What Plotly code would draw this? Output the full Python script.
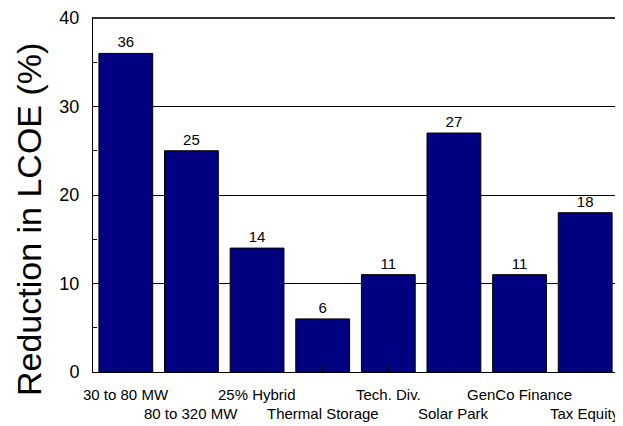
import plotly.graph_objects as go

categories = ["30 to 80 MW", "80 to 320 MW", "25% Hybrid", "Thermal Storage",
              "Tech. Div.", "Solar Park", "GenCo Finance", "Tax Equity"]
values = [36, 25, 14, 6, 11, 27, 11, 18]
y_ticks = [0, 10, 20, 30, 40]
y_title = "Reduction in LCOE (%)"

FONT = "Liberation Sans, Arial, sans-serif"

fig = go.Figure()
fig.add_trace(go.Bar(
    x=categories, y=values,
    marker=dict(color="#000080", line=dict(color="black", width=1)),
    text=[str(v) for v in values], textposition="outside",
    textfont=dict(family=FONT, size=15, color="black"),
    cliponaxis=False, width=0.82,
))

annotations = []
for i, c in enumerate(categories):
    annotations.append(dict(
        x=c, xref="x", y=0, yref="paper",
        yshift=-22 if i % 2 == 0 else -41,
        text=c, showarrow=False, xanchor="center", yanchor="middle",
        font=dict(family=FONT, size=15, color="black"),
    ))
annotations.append(dict(
    x=0, xref="paper", xanchor="center", xshift=-64,
    y=0, yref="paper", yshift=152, yanchor="middle",
    text=y_title, textangle=-90, showarrow=False,
    font=dict(family=FONT, size=34, color="black"),
))

fig.update_layout(
    width=615, height=418,
    margin=dict(l=85, r=5, t=10, b=54, autoexpand=False),
    paper_bgcolor="white", plot_bgcolor="white",
    showlegend=False,
    annotations=annotations,
    shapes=[
        dict(type="line", xref="paper", yref="paper", x0=0, x1=1, y0=1, y1=1,
             line=dict(color="#333333", width=2)),
        dict(type="line", xref="paper", yref="paper", x0=1, x1=1, y0=0, y1=1,
             line=dict(color="#333333", width=1.5)),
    ],
    xaxis=dict(
        showticklabels=False, ticks="inside", ticklen=6, tickcolor="black",
        showline=True, linecolor="black", linewidth=1, mirror=True,
        showgrid=False, automargin=False,
    ),
    yaxis=dict(
        range=[0, 40], tickvals=y_ticks, ticks="", showgrid=True,
        gridcolor="black", gridwidth=1,
        showline=True, linecolor="black", linewidth=1, mirror=True,
        tickfont=dict(family=FONT, size=18, color="black"),
        ticklabelstandoff=9, ticklabeloverflow="allow",
        zeroline=False, automargin=False,
        minor=dict(tickvals=[5, 15, 25, 35], ticks="inside", ticklen=4,
                   tickcolor="black", showgrid=False),
    ),
)
fig.update_xaxes(range=[-0.5, 7.5])

fig.write_html("out.html")
